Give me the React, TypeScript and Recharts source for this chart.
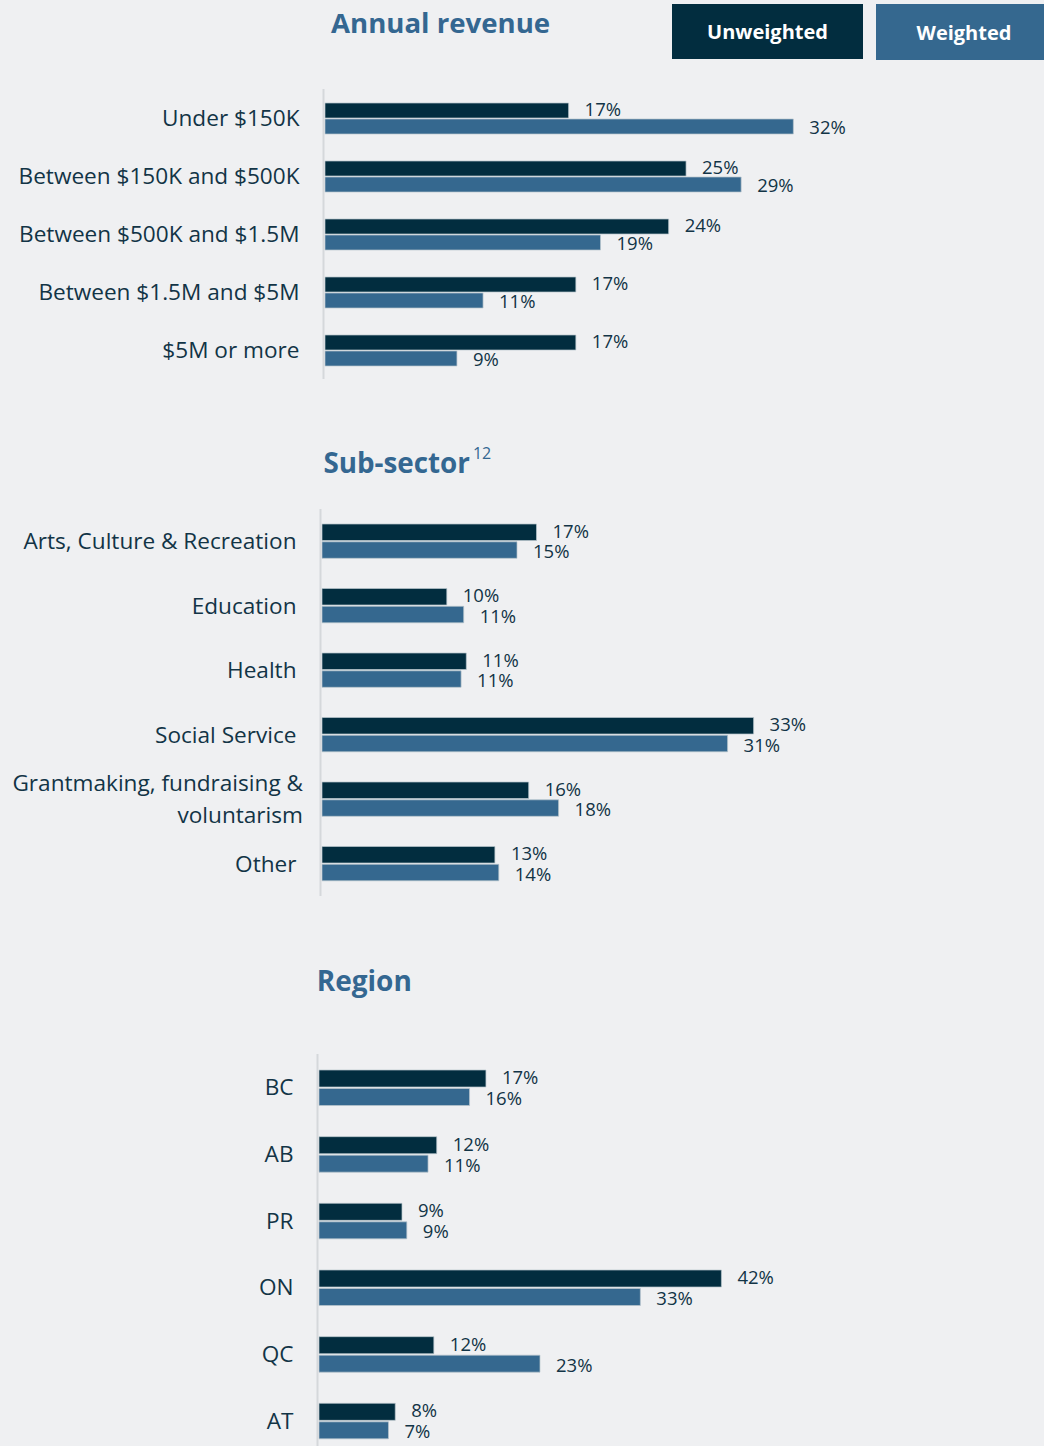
import React from 'react';
import { BarChart, Bar, XAxis, YAxis, LabelList, Legend } from 'recharts';

// ---------- data ----------
const seriesNames = ['Unweighted', 'Weighted'];

const revenueCategories = [
  'Under $150K',
  'Between $150K and $500K',
  'Between $500K and $1.5M',
  'Between $1.5M and $5M',
  '$5M or more',
];
const revenueUnweighted = [16.8, 24.9, 23.7, 17.3, 17.3];
const revenueWeighted = [32.3, 28.7, 19.0, 10.9, 9.1];

const sectorCategories = [
  'Arts, Culture & Recreation',
  'Education',
  'Health',
  'Social Service',
  'Grantmaking, fundraising &\nvoluntarism',
  'Other',
];
const sectorUnweighted = [16.5, 9.6, 11.1, 33.2, 15.9, 13.3];
const sectorWeighted = [15.0, 10.9, 10.7, 31.2, 18.2, 13.6];

const regionCategories = ['BC', 'AB', 'PR', 'ON', 'QC', 'AT'];
const regionUnweighted = [17.3, 12.2, 8.6, 41.7, 11.9, 7.9];
const regionWeighted = [15.6, 11.3, 9.1, 33.3, 22.9, 7.2];

const panelTitles = ['Annual revenue', 'Sub-sector', 'Region'];
const subSectorNote = '12';

// ---------- styles ----------
const FONT = "'Open Sans', 'Noto Sans', sans-serif";
const BG = '#eff0f2';
const DARK = '#022d3f';
const BLUE = '#35688f';
const TITLE = '#346791';
const TEXT = '#123446';
const AXIS = '#d5d8db';

const buildRows = (cats: string[], u: number[], w: number[]) =>
  cats.map((name, i) => ({ name, unweighted: u[i], weighted: w[i] }));

const CategoryTick = (props: any) => {
  const { x, y, payload } = props;
  const lines = String(payload.value).split('\n');
  const fs = 22.6;
  const lineH = 31.6;
  const gap = lines.length > 1 ? 19 : 25.5;
  const start = -((lines.length - 1) * lineH) / 2 + 0.35 * fs;
  return (
    <text x={x - gap} y={y} textAnchor="end" fill={TEXT} fontSize={fs} fontFamily={FONT}>
      {lines.map((l, i) => (
        <tspan key={i} x={x - gap} dy={i === 0 ? start : lineH}>
          {l}
        </tspan>
      ))}
    </text>
  );
};

const makeValueLabel = (dy: number) => (props: any) => {
  const { x, y, width, height, value } = props;
  return (
    <text
      x={Number(x) + Number(width) + 16}
      y={Number(y) + Number(height) / 2 + dy}
      dy="0.35em"
      fill={TEXT}
      fontSize={18.5}
      fontFamily={FONT}
    >
      {Math.round(Number(value))}%
    </text>
  );
};

const LegendBoxes = (props: any) => {
  const { payload } = props;
  const boxes = [
    { left: 0, width: 191, height: 55 },
    { left: 204, width: 176, height: 56 },
  ];
  return (
    <div style={{ position: 'relative', width: 380, height: 60 }}>
      {(payload || []).map((p: any, i: number) => (
        <div
          key={p.value}
          style={{
            position: 'absolute',
            left: boxes[i].left,
            top: 0,
            width: boxes[i].width,
            height: boxes[i].height,
            background: p.color,
            color: '#ffffff',
            fontFamily: FONT,
            fontWeight: 700,
            fontSize: 20,
            display: 'flex',
            alignItems: 'center',
            justifyContent: 'center',
          }}
        >
          {p.value}
        </div>
      ))}
    </div>
  );
};

type PanelProps = {
  top: number;
  height: number;
  plotTop: number;
  plotBottom: number;
  plotLeft: number;
  max: number;
  pxPerUnit: number;
  barSize: number;
  barGap: number;
  rows: any[];
  legend?: boolean;
};

const Panel = (p: PanelProps) => {
  const plotWidth = p.max * p.pxPerUnit;
  const margin = {
    top: p.plotTop - p.top,
    bottom: p.top + p.height - p.plotBottom,
    left: 0,
    right: 1044 - p.plotLeft - plotWidth,
  };
  return (
    <div style={{ position: 'absolute', left: 0, top: p.top }}>
      <BarChart
        width={1044}
        height={p.height}
        data={p.rows}
        layout="vertical"
        margin={margin}
        barSize={p.barSize}
        barGap={p.barGap}
      >
        <XAxis type="number" domain={[0, p.max]} hide />
        <YAxis
          type="category"
          dataKey="name"
          width={p.plotLeft}
          tickLine={false}
          tickSize={0}
          tickMargin={0}
          interval={0}
          axisLine={{ stroke: AXIS, strokeWidth: 2, transform: 'translate(-1.5 0)' } as any}
          tick={(tp: any) => <CategoryTick {...tp} />}
        />
        {p.legend && (
          <Legend
            layout="horizontal"
            verticalAlign="middle"
            align="center"
            wrapperStyle={{ top: 4 - p.top, left: 672, width: 380 }}
            content={(lp: any) => <LegendBoxes {...lp} />}
          />
        )}
        <Bar
          dataKey="unweighted"
          name={seriesNames[0]}
          fill={DARK}
          stroke="#b9c5cd"
          strokeWidth={0.7}
          isAnimationActive={false}
        >
          <LabelList dataKey="unweighted" content={makeValueLabel(-1)} />
        </Bar>
        <Bar
          dataKey="weighted"
          name={seriesNames[1]}
          fill={BLUE}
          stroke="#b9c5cd"
          strokeWidth={0.7}
          isAnimationActive={false}
        >
          <LabelList dataKey="weighted" content={makeValueLabel(1.5)} />
        </Bar>
      </BarChart>
    </div>
  );
};

export default function App() {
  return (
    <div
      style={{
        position: 'absolute',
        left: 0,
        top: 0,
        width: 1044,
        height: 1446,
        overflow: 'hidden',
        background: BG,
        fontFamily: FONT,
      }}
    >
      <Panel
        top={0}
        height={400}
        plotTop={89}
        plotBottom={379}
        plotLeft={325}
        max={40}
        pxPerUnit={14.5}
        barSize={15}
        barGap={1}
        rows={buildRows(revenueCategories, revenueUnweighted, revenueWeighted)}
        legend
      />
      <Panel
        top={480}
        height={440}
        plotTop={509}
        plotBottom={896}
        plotLeft={322}
        max={40}
        pxPerUnit={13}
        barSize={16.5}
        barGap={1.3}
        rows={buildRows(sectorCategories, sectorUnweighted, sectorWeighted)}
      />
      <Panel
        top={1000}
        height={480}
        plotTop={1054}
        plotBottom={1454}
        plotLeft={319}
        max={50}
        pxPerUnit={9.65}
        barSize={17}
        barGap={1.5}
        rows={buildRows(regionCategories, regionUnweighted, regionWeighted)}
      />
      <svg
        width={1044}
        height={1446}
        style={{ position: 'absolute', left: 0, top: 0, pointerEvents: 'none' }}
      >
        <text x={331} y={33.3} fill={TITLE} fontFamily={FONT} fontWeight={700} fontSize={27.6}>
          {panelTitles[0]}
        </text>
        <text x={323.4} y={473.3} fill={TITLE} fontFamily={FONT} fontWeight={700} fontSize={27.8}>
          {panelTitles[1]}
          <tspan dx={3} dy={-14} fontSize={16} fontWeight={400}>
            {subSectorNote}
          </tspan>
        </text>
        <text x={316.7} y={990.7} fill={TITLE} fontFamily={FONT} fontWeight={700} fontSize={28}>
          {panelTitles[2]}
        </text>
      </svg>
    </div>
  );
}
